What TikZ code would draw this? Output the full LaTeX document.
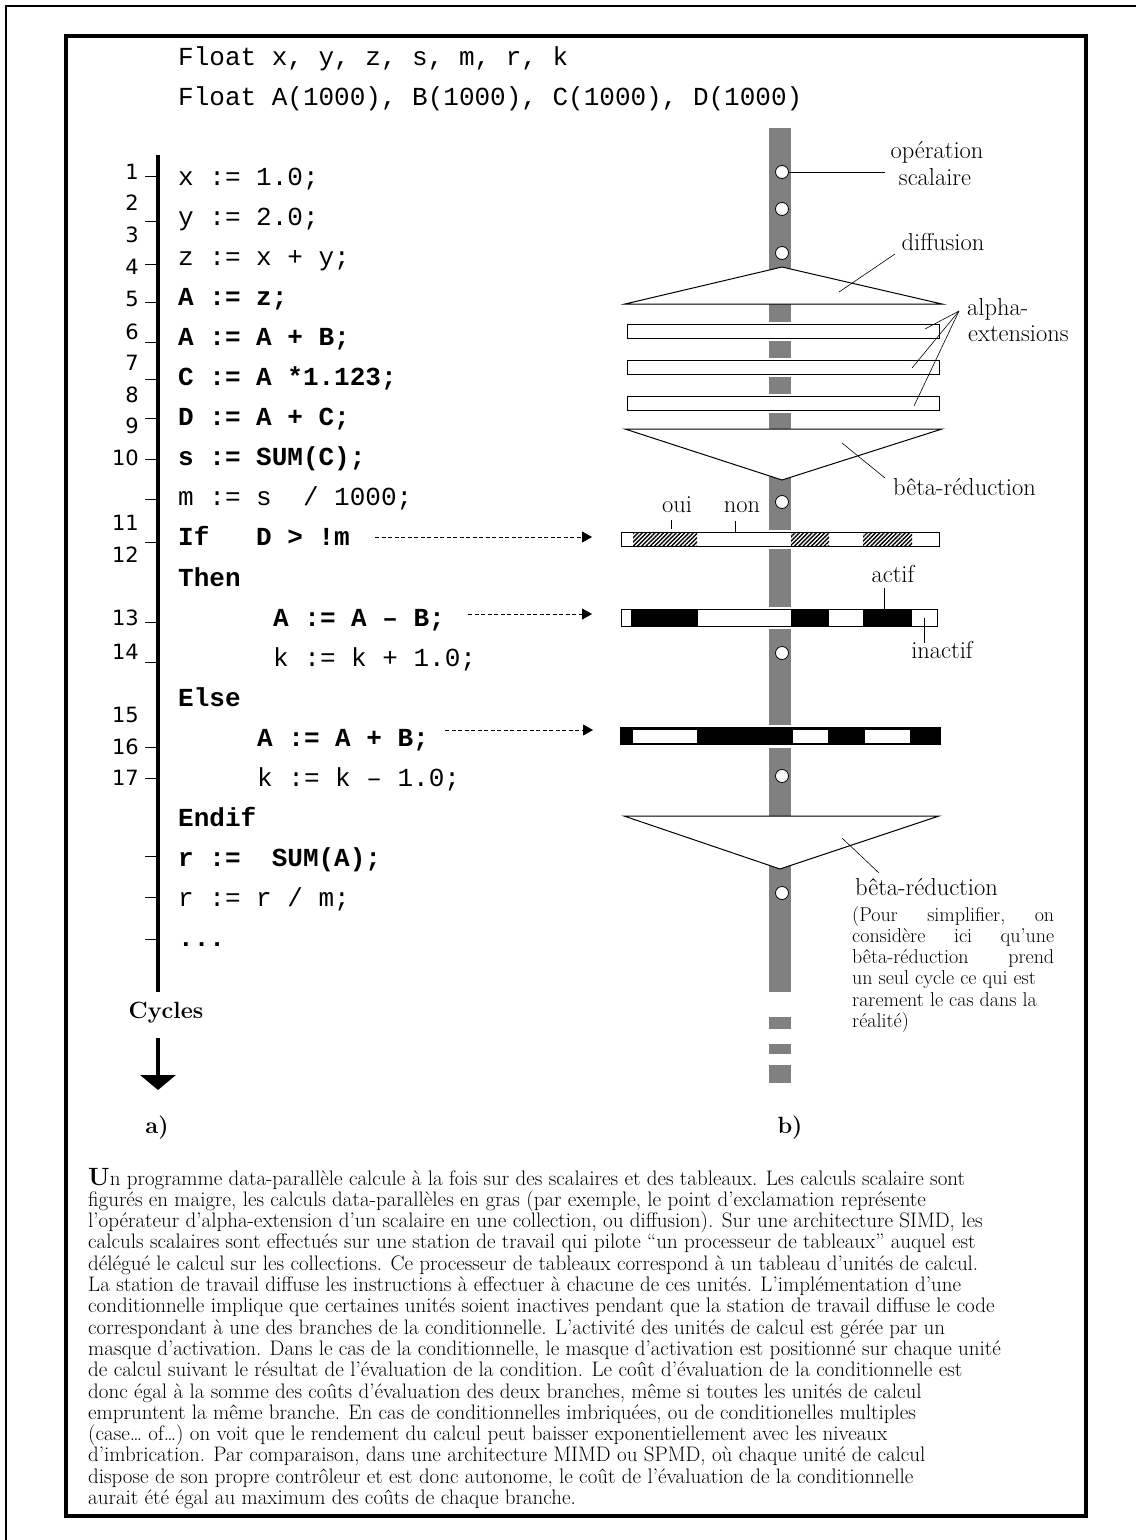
\documentclass[tikz,border=0pt]{standalone}
\usepackage{fontspec}
\setmonofont{Liberation Mono}
\newfontfamily\numfont{DejaVu Sans}
\usetikzlibrary{arrows.meta,patterns.meta}
\definecolor{bargray}{gray}{0.5}
\newcommand\codefont{\ttfamily\fontsize{26}{30}\selectfont}
\newcommand\labfont{\fontsize{24.5}{28}\selectfont}
\newcommand\hdfont{\fontsize{23.5}{28}\selectfont\bfseries}
\newcommand\parfont{\fontsize{21}{21.3}\selectfont}
\newcommand\notefont{\fontsize{20}{21.3}\selectfont}
\begin{document}
\begin{tikzpicture}[x=1pt,y=-1pt,
  code/.style={anchor=base west,inner sep=0pt,font=\codefont},
  codeb/.style={anchor=base west,inner sep=0pt,font=\codefont\bfseries},
  num/.style={anchor=east,inner sep=0pt,font=\numfont\fontsize{21}{24}\selectfont},
  tick/.style={line width=0.9pt},
  lab/.style={anchor=base,inner sep=0pt,font=\labfont},
  labw/.style={anchor=base west,inner sep=0pt,font=\labfont},
  para/.style={anchor=base west,inner sep=0pt,font=\parfont},
  note/.style={anchor=base west,inner sep=0pt,font=\notefont},
  lead/.style={line width=0.6pt},
  halo/.style={draw=white,line width=5pt},
  box/.style={draw=black,line width=1pt},
  darr/.style={line width=0.9pt,dash pattern=on 4pt off 2.5pt,-{Triangle[length=10pt,width=11pt]}},
  opdot/.style={circle,draw=black,fill=white,line width=0.8pt,minimum size=13pt,inner sep=0pt}
]
\useasboundingbox (0,0) rectangle (1136,1540);
% frames
\draw[line width=1.2pt] (6,1540) -- (6,6) -- (1136,6);
\draw[line width=4pt] (66,36) rectangle (1086,1516);

% ---------- code ----------
\node[code] (f1) at (178,65) {Float x, y, z, s, m, r, k};
\node[code] (f2) at (178,105) {Float A(1000), B(1000), C(1000), D(1000)};
\node[code]  (c0)  at (178,185)   {x := 1.0;};
\node[code]  (c1)  at (178,225.1) {y := 2.0;};
\node[code]  (c2)  at (178,265.2) {z := x + y;};
\node[codeb] (c3)  at (178,305.3) {A := z;};
\node[codeb] (c4)  at (178,345.4) {A := A + B;};
\node[codeb] (c5)  at (178,385.5) {C := A *1.123;};
\node[codeb] (c6)  at (178,425.6) {D := A + C;};
\node[codeb] (c7)  at (178,465.7) {s := SUM(C);};
\node[code]  (c8)  at (178,505.8) {m := s~~/ 1000;};
\node[codeb] (c9)  at (178,545.9) {If~~~D > !m};
\node[codeb] (c10) at (178,586)   {Then};
\node[codeb] (c11) at (273,626.1) {A := A – B;};
\node[code]  (c12) at (273,666.2) {k := k + 1.0;};
\node[codeb] (c13) at (178,706.3) {Else};
\node[codeb] (c14) at (257,746.4) {A := A + B;};
\node[code]  (c15) at (257,786.5) {k := k – 1.0;};
\node[codeb] (c16) at (178,826.6) {Endif};
\node[codeb] (c17) at (178,866.7) {r :=~~SUM(A);};
\node[code]  (c18) at (178,906.8) {r := r / m;};
\node[codeb] (c19) at (178,946.9) {...};

% ---------- time axis ----------
\foreach \n/\y in {1/172,2/203,3/235,4/267,5/299,6/332,7/363,8/395,9/426,10/458,11/523,12/555,13/618,14/652,15/715,16/747,17/778}
  \node[num] (n\n) at (139,\y) {\n};
\foreach \y in {176,221,264,302,342,379,418,459,499,542,622,662,747,778,856,897,939}
  \draw[tick] (145,\y) -- (157,\y);
\coordinate (axtop) at (158,155);
\coordinate (axbot) at (158,992);
\coordinate (axs) at (158,1038);
\coordinate (axtip) at (158,1090);
\node[inner sep=0pt,font=\hdfont] (cyc) at (166,1013) {Cycles};
\draw[line width=4pt] (axtop) -- (axbot);
\draw[line width=4pt,-{Triangle[length=15pt,width=35pt]}] (axs) -- (axtip);
\node[inner sep=0pt,font=\hdfont] (la) at (157,1128) {a)};
\node[inner sep=0pt,font=\hdfont] (lb) at (790,1128) {b)};

% ---------- dashed arrows ----------
\coordinate (a1s) at (375,537); \coordinate (a1e) at (592,537);
\coordinate (a2s) at (468,614); \coordinate (a2e) at (592,614);
\coordinate (a3s) at (445,730); \coordinate (a3e) at (593,730);
\draw[darr] (a1s) -- (a1e);
\draw[darr] (a2s) -- (a2e);
\draw[darr] (a3s) -- (a3e);

% ---------- processor bar ----------
\fill[bargray] (769,128) rectangle (791,992);
\fill[bargray] (769,1017) rectangle (791,1029);
\fill[bargray] (769,1044) rectangle (791,1054);
\fill[bargray] (769,1065) rectangle (791,1083);

% diffusion triangle
\draw[line width=1pt,fill=white,line join=miter] (625,304) -- (782,267) -- (942,304) -- cycle;
% alpha-extensions
\foreach \a/\b in {324/338,360/374,396/410}{
  \draw[halo] (627,\a) rectangle (939,\b);
  \draw[box,fill=white] (627,\a) rectangle (939,\b);
}
% beta reduction 1
\draw[line width=1pt,fill=white] (625,429) -- (942,429) -- (782,480) -- cycle;

% mask bar 1 (oui / non)
\draw[halo] (621,532) rectangle (939,546);
\fill[white] (621,532) rectangle (939,546);
\foreach \a/\b in {633/697,791/829,863/912}
  \fill[pattern={Lines[angle=45,distance=3pt,line width=1.4pt]}] (\a,532) rectangle (\b,546);
\draw[box] (621,532) rectangle (939,546);

% mask bar 2 (Then)
\draw[halo] (621,609) rectangle (937,626);
\draw[box,fill=white] (621,609) rectangle (937,626);
\foreach \a/\b in {631/698,791/829,863/912}
  \fill[black] (\a,609) rectangle (\b,626);

% mask bar 3 (Else)
\draw[halo] (620,727) rectangle (941,745);
\fill[black] (620,727) rectangle (941,745);
\foreach \a/\b in {632/697,792/828,864/910}
  \draw[line width=0.8pt,fill=white] (\a,729) rectangle (\b,743);

% beta reduction 2
\draw[line width=1pt,fill=white] (624,816) -- (939,816) -- (780,869) -- cycle;

% scalar operations
\foreach \y [count=\i] in {172,209,253,502,653,776,893}
  \node[opdot] (d\i) at (782,\y) {};

% ---------- labels ----------
\node[lab] (op1) at (937,158) {opération};
\node[lab] (op2) at (935,185) {scalaire};
\coordinate (opl) at (885,172);
\draw[line width=0.9pt] (d1.east) -- (opl);

\node[lab] (dif) at (943,250) {diffusion};
\coordinate (difa) at (895,254); \coordinate (difb) at (839,292);
\draw[lead] (difa) -- (difb);

\node[labw] (al1) at (967,315) {alpha-};
\node[labw] (al2) at (968,341) {extensions};
\coordinate (alo) at (959,311);
\coordinate (al1e) at (925,329); \coordinate (al2e) at (912,368); \coordinate (al3e) at (914,406);
\draw[lead] (alo) -- (al1e);
\draw[lead] (alo) -- (al2e);
\draw[lead] (alo) -- (al3e);

\node[labw] (br1) at (893,495) {bêta-réduction};
\coordinate (br1a) at (885,478); \coordinate (br1b) at (842,443);
\draw[lead] (br1a) -- (br1b);

\node[lab] (oui) at (677,512) {oui};
\node[lab] (non) at (742,512) {non};
\draw[lead] (671,520) -- (671,529);
\draw[lead] (735,521) -- (735,532);

\node[lab] (act) at (893,582) {actif};
\draw[line width=0.9pt] (884,588) -- (884,609);
\node[lab] (inact) at (942,658) {inactif};
\draw[line width=0.9pt] (924,618) -- (924,643);

\node[labw] (br2) at (855,895) {bêta-réduction};
\coordinate (br2a) at (879,873); \coordinate (br2b) at (842,838);
\draw[lead] (br2a) -- (br2b);

\node[note] (q1) at (852,921)   {\makebox[202pt][s]{(Pour\hfill simplifier,\hfill on}};
\node[note] (q2) at (852,942.3) {\makebox[202pt][s]{considère\hfill ici\hfill qu'une}};
\node[note] (q3) at (852,963.6) {\makebox[202pt][s]{bêta-réduction\hfill prend}};
\node[note] (q4) at (852,984.9) {un seul cycle ce qui est};
\node[note] (q5) at (852,1006.2) {rarement le cas dans la};
\node[note] (q6) at (852,1027.5) {réalité)};

% ---------- caption ----------
\foreach \t [count=\i] in {
 {{\fontsize{25}{25}\selectfont\bfseries U}n programme data-parallèle calcule à la fois sur des scalaires et des tableaux. Les calculs scalaire sont},
 {figurés en maigre, les calculs data-parallèles en gras (par exemple, le point d’exclamation représente},
 {l’opérateur d’alpha-extension d’un scalaire en une collection, ou diffusion). Sur une architecture SIMD, les},
 {calculs scalaires sont effectués sur une station de travail qui pilote “un processeur de tableaux” auquel est},
 {délégué le calcul sur les collections. Ce processeur de tableaux correspond à un tableau d’unités de calcul.},
 {La station de travail diffuse les instructions à effectuer à chacune de ces unités. L’implémentation d’une},
 {conditionnelle implique que certaines unités soient inactives pendant que la station de travail diffuse le code},
 {correspondant à une des branches de la conditionnelle. L’activité des unités de calcul est gérée par un},
 {masque d’activation. Dans le cas de la conditionnelle, le masque d’activation est positionné sur chaque unité},
 {de calcul suivant le résultat de l’évaluation de la condition. Le coût d’évaluation de la conditionnelle est},
 {donc égal à la somme des coûts d’évaluation des deux branches, même si toutes les unités de calcul},
 {empruntent la même branche. En cas de conditionnelles imbriquées, ou de conditionelles multiples},
 {(case… of…) on voit que le rendement du calcul peut baisser exponentiellement avec les niveaux},
 {d’imbrication. Par comparaison, dans une architecture MIMD ou SPMD, où chaque unité de calcul},
 {dispose de son propre contrôleur et est donc autonome, le coût de l’évaluation de la conditionnelle},
 {aurait été égal au maximum des coûts de chaque branche.}}
  \node[para] (p\i) at (88,{1185+21.3*(\i-1)}) {\t};
\end{tikzpicture}
\end{document}
